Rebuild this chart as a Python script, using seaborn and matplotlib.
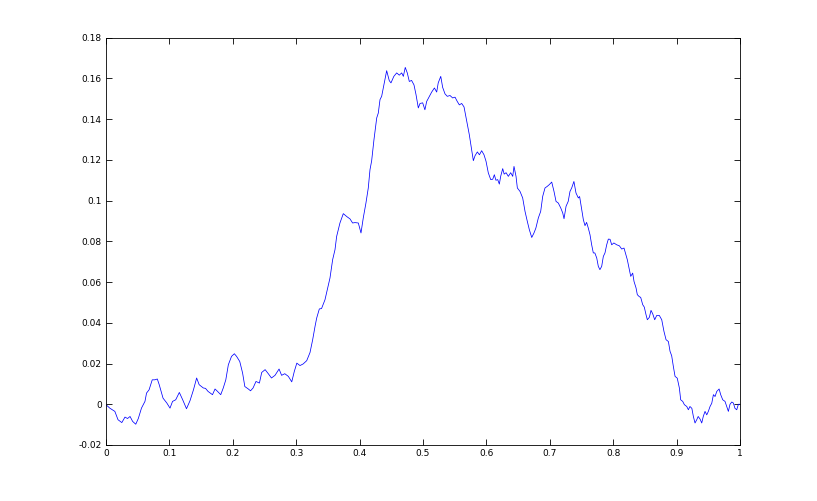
import matplotlib
matplotlib.use("Agg")
import matplotlib.pyplot as plt
import matplotlib.ticker as mticker
import numpy as np
import pandas as pd
import seaborn as sns

# values
x_vals = [
    0.000, 0.006, 0.014, 0.019, 0.025, 0.030, 0.034, 0.038, 0.042, 0.047,
    0.051, 0.056, 0.0615, 0.064, 0.068, 0.073, 0.077, 0.081, 0.084, 0.090,
    0.096, 0.101, 0.105, 0.110, 0.1157, 0.121, 0.127, 0.1325, 0.138, 0.143,
    0.147, 0.1535, 0.157, 0.161, 0.168, 0.172, 0.176, 0.181, 0.185, 0.189,
    0.193, 0.198, 0.2025, 0.206, 0.211, 0.2155, 0.219, 0.2245, 0.228, 0.232,
    0.2366, 0.242, 0.2456, 0.251, 0.256, 0.261, 0.2666, 0.273, 0.277, 0.282,
    0.2876, 0.293, 0.297, 0.301, 0.306, 0.311, 0.3166, 0.3218, 0.326, 0.3297,
    0.3323, 0.3365, 0.340, 0.3454, 0.349, 0.3533, 0.3575, 0.3612, 0.3638, 0.369,
    0.3743, 0.3796, 0.3849, 0.389, 0.3927, 0.398, 0.4022, 0.4058, 0.410, 0.4137,
    0.4164, 0.419, 0.4227, 0.427, 0.4295, 0.4322, 0.4348, 0.4385, 0.4427, 0.4468,
    0.4495, 0.454, 0.4585, 0.4626, 0.4664, 0.469, 0.472, 0.4752, 0.4784, 0.482,
    0.4858, 0.489, 0.4926, 0.4953, 0.4995, 0.503, 0.5058, 0.510, 0.5137, 0.518,
    0.5216, 0.524, 0.528, 0.531, 0.5347, 0.5383, 0.5426, 0.5468, 0.5505, 0.554,
    0.5573, 0.561, 0.5647, 0.569, 0.573, 0.5768, 0.5794, 0.582, 0.5857, 0.589,
    0.5925, 0.5962, 0.5994, 0.603, 0.6068, 0.610, 0.6125, 0.615, 0.6178, 0.6204,
    0.6225, 0.6257, 0.628, 0.631, 0.6346, 0.6383, 0.6415, 0.6435, 0.6467, 0.6488,
    0.653, 0.6572, 0.6609, 0.6645, 0.6677, 0.6715, 0.675, 0.678, 0.6819, 0.6856,
    0.6888, 0.6924, 0.696, 0.699, 0.703, 0.7066, 0.7098, 0.7134, 0.7172, 0.7203,
    0.7224, 0.7256, 0.729, 0.7318, 0.7345, 0.738, 0.7413, 0.745, 0.747, 0.7503,
    0.7529, 0.7555, 0.758, 0.7607, 0.7634, 0.766, 0.7686, 0.771, 0.774, 0.7765,
    0.779, 0.7818, 0.7844, 0.787, 0.7897, 0.7923, 0.795, 0.7976, 0.801, 0.8055,
    0.8097, 0.8134, 0.817, 0.820, 0.8222, 0.8254, 0.8276, 0.8307, 0.8328, 0.836,
    0.838, 0.8412, 0.8433, 0.8465, 0.849, 0.8517, 0.8538, 0.857, 0.8596, 0.8623,
    0.8654, 0.8686, 0.8727, 0.8765, 0.880, 0.8833, 0.887, 0.8896, 0.8922, 0.8948,
    0.8975, 0.901, 0.9043, 0.9064, 0.9096, 0.9122, 0.916, 0.9185, 0.921, 0.924,
    0.9264, 0.929, 0.9317, 0.934, 0.937, 0.9396, 0.942, 0.9448, 0.9475, 0.950,
    0.9527, 0.9554, 0.958, 0.9606, 0.9633, 0.967, 0.9695, 0.9727, 0.9763, 0.979,
    0.9816, 0.9842, 0.987, 0.9895, 0.992, 0.9948, 0.9974, 1.000,
]
y_vals = [
    -0.0002, -0.0019, -0.0035, -0.0076, -0.0090, -0.0063, -0.0070, -0.0060, -0.0084, -0.0098,
    -0.0070, -0.0019, 0.0014, 0.0055, 0.0071, 0.0120, 0.0120, 0.0124, 0.0096, 0.0030,
    0.0006, -0.0019, 0.0014, 0.0022, 0.0058, 0.0022, -0.0022, 0.0017, 0.0071, 0.0129,
    0.0096, 0.0080, 0.0078, 0.0063, 0.0047, 0.0075, 0.0063, 0.0047, 0.0080, 0.0120,
    0.0194, 0.0235, 0.0248, 0.0235, 0.0210, 0.0153, 0.0087, 0.0075, 0.0066, 0.0080,
    0.0112, 0.0104, 0.0156, 0.0170, 0.0150, 0.0129, 0.0142, 0.0173, 0.0142, 0.0150,
    0.0137, 0.0110, 0.0161, 0.0202, 0.0190, 0.0198, 0.0214, 0.0254, 0.0317, 0.0382,
    0.0423, 0.0468, 0.0470, 0.0513, 0.0562, 0.0620, 0.0710, 0.0759, 0.0824, 0.0890,
    0.0936, 0.0922, 0.0910, 0.0890, 0.0892, 0.0890, 0.0841, 0.0915, 0.0988, 0.1062,
    0.1152, 0.1195, 0.1300, 0.1406, 0.1430, 0.1496, 0.1512, 0.1570, 0.1638, 0.1589,
    0.1578, 0.1610, 0.1627, 0.1616, 0.1627, 0.1610, 0.1654, 0.1627, 0.1585, 0.1590,
    0.1568, 0.1520, 0.1455, 0.1477, 0.1480, 0.1446, 0.1487, 0.1512, 0.1533, 0.1553,
    0.1533, 0.1578, 0.1610, 0.1556, 0.1524, 0.1512, 0.1516, 0.1504, 0.1508, 0.1487,
    0.1470, 0.1477, 0.1460, 0.1389, 0.1324, 0.1246, 0.1196, 0.1220, 0.1239, 0.1225,
    0.1245, 0.1225, 0.1193, 0.1136, 0.1103, 0.1105, 0.1127, 0.1100, 0.1103, 0.1081,
    0.1119, 0.1157, 0.1130, 0.1137, 0.1119, 0.1137, 0.1119, 0.1168, 0.1119, 0.1062,
    0.1045, 0.1013, 0.0947, 0.0898, 0.0857, 0.0819, 0.0841, 0.0865, 0.0915, 0.0947,
    0.1021, 0.1062, 0.1070, 0.1078, 0.1091, 0.1045, 0.0996, 0.0988, 0.0964, 0.0940,
    0.0911, 0.0972, 0.0996, 0.1045, 0.1062, 0.1094, 0.1037, 0.1013, 0.1020, 0.0955,
    0.0906, 0.0877, 0.0893, 0.0865, 0.0832, 0.0783, 0.0743, 0.0743, 0.0718, 0.0677,
    0.0661, 0.0677, 0.0726, 0.0743, 0.0783, 0.0811, 0.0810, 0.0783, 0.0792, 0.0783,
    0.0778, 0.0762, 0.0767, 0.0734, 0.0710, 0.0661, 0.0628, 0.0644, 0.0603, 0.0571,
    0.0538, 0.0528, 0.0525, 0.0489, 0.0477, 0.0440, 0.0415, 0.0427, 0.0461, 0.0444,
    0.0415, 0.0436, 0.0436, 0.0415, 0.0358, 0.0317, 0.0308, 0.0260, 0.0238, 0.0186,
    0.0137, 0.0128, 0.0080, 0.0022, 0.0014, -0.0002, -0.0011, -0.0027, -0.0011, -0.0020,
    -0.0060, -0.0092, -0.0076, -0.0060, -0.0073, -0.0092, -0.0060, -0.0035, -0.0052, -0.0035,
    -0.0011, 0.0005, 0.0047, 0.0038, 0.0063, 0.0075, 0.0047, 0.0022, 0.0014, -0.0011,
    -0.0035, 0.0000, 0.0011, 0.0006, -0.0020, -0.0027, 0.0000, 0.0000,
]
x_ticks = [0, 0.1, 0.2, 0.3, 0.4, 0.5, 0.6, 0.7, 0.8, 0.9, 1]
y_ticks = [-0.02, 0, 0.02, 0.04, 0.06, 0.08, 0.1, 0.12, 0.14, 0.16, 0.18]

df = pd.DataFrame({"x": x_vals, "y": y_vals})

sns.set_style("ticks")
plt.rcParams["font.family"] = ["DejaVu Sans"]
plt.rcParams["axes.unicode_minus"] = False

fig = plt.figure(figsize=(8.17, 5.01), dpi=100)
ax = fig.add_axes([0.1297, 0.1118, 0.9058 - 0.1297, 0.9248 - 0.1118])

sns.lineplot(data=df, x="x", y="y", color="#0000ff", linewidth=0.55,
             sort=False, estimator=None, ax=ax)

ax.set_xlim(0, 1)
ax.set_ylim(-0.02, 0.18)
ax.set_xticks(x_ticks)
ax.set_yticks(y_ticks)
ax.xaxis.set_major_formatter(mticker.FormatStrFormatter("%g"))
ax.yaxis.set_major_formatter(mticker.FormatStrFormatter("%g"))
ax.set_xlabel("")
ax.set_ylabel("")
for side in ["top", "right", "left", "bottom"]:
    ax.spines[side].set_visible(True)
    ax.spines[side].set_color("black")
    ax.spines[side].set_linewidth(0.6)
ax.tick_params(direction="in", length=4, width=0.6, labelsize=6.5,
               top=True, right=True, colors="black", pad=3)

fig.savefig("out.png", dpi=100, facecolor="white")
